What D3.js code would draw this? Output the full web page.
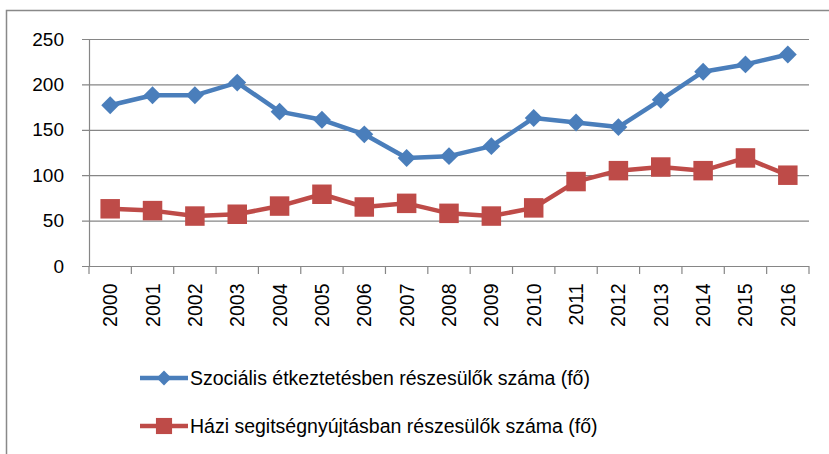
<!DOCTYPE html>
<html>
<head>
<meta charset="utf-8">
<script src="https://cdn.jsdelivr.net/npm/d3@7"></script>
<style>
  body { margin: 0; background: #fff; }
  text { font-family: "Liberation Sans", Arial, sans-serif; fill: #000; }
</style>
</head>
<body>
<svg id="chart" width="829" height="454"></svg>
<script>
var years = ["2000","2001","2002","2003","2004","2005","2006","2007","2008","2009","2010","2011","2012","2013","2014","2015","2016"];
var etkeztetes = [177, 188, 188, 202, 170, 161, 145, 119, 121, 132, 163, 158, 153, 183, 214, 222, 233];
var hazi = [63, 61, 55, 57, 66, 79, 65, 69, 58, 55, 64, 93, 105, 109, 105, 119, 100];
var yTicks = [0, 50, 100, 150, 200, 250];
var seriesNames = ["Szociális étkeztetésben részesülők száma (fő)", "Házi segitségnyújtásban részesülők száma (fő)"];

var svg = d3.select("#chart");

// outer border
svg.append("rect")
  .attr("x", 6.5).attr("y", 10.5)
  .attr("width", 840).attr("height", 460)
  .attr("fill", "none").attr("stroke", "#898989").attr("stroke-width", 1.5);

var plotLeft = 89, plotRight = 809, plotTop = 39, plotBottom = 266;

var xScale = d3.scaleBand().domain(years).range([plotLeft, plotRight]),
  yScale = d3.scaleLinear().domain([0, 250]).range([plotBottom, plotTop]);

// grid
svg.append("g")
  .selectAll("line")
  .data(yTicks)
  .enter().append("line")
  .attr("x1", plotLeft - 7).attr("x2", plotRight)
  .attr("y1", function(d) { return yScale(d) + 0.5; })
  .attr("y2", function(d) { return yScale(d) + 0.5; })
  .attr("stroke", "#868686").attr("stroke-width", 1.2);

// y axis
var yAxis = svg.append("g")
  .attr("transform", "translate(" + plotLeft + ",0)")
  .call(d3.axisLeft(yScale).tickValues(yTicks).tickSize(0).tickPadding(25));
yAxis.select(".domain").attr("stroke", "#868686").attr("stroke-width", 1.2);
yAxis.selectAll("text").attr("font-size", 19).attr("font-family", "DejaVu Sans");

// x axis, ticks sit on the band edges
var xAxis = svg.append("g")
  .attr("transform", "translate(0," + (plotBottom + 0.5) + ")")
  .call(d3.axisBottom(xScale).tickSize(0).tickPadding(0));
xAxis.select(".domain").remove();
svg.append("line")
  .attr("x1", plotLeft).attr("x2", plotRight)
  .attr("y1", plotBottom + 0.5).attr("y2", plotBottom + 0.5)
  .attr("stroke", "#868686").attr("stroke-width", 1.2);
var edges = years.map(function(d) { return xScale(d); }).concat([plotRight]);
svg.append("g").selectAll("line")
  .data(edges)
  .enter().append("line")
  .attr("x1", function(d) { return d; }).attr("x2", function(d) { return d; })
  .attr("y1", plotBottom).attr("y2", plotBottom + 8)
  .attr("stroke", "#868686").attr("stroke-width", 1.2);
xAxis.selectAll("text")
  .attr("font-size", 19.5).attr("font-family", "DejaVu Sans")
  .attr("text-anchor", "end")
  .attr("dy", null)
  .attr("transform", "translate(7,17) rotate(-90)");

function xPos(i) { return xScale(years[i]) + xScale.bandwidth() / 2; }

var series = [
  { values: etkeztetes, color: "#4A7EBB", size: 160, rot: 45, legendSize: 110 },
  { values: hazi, color: "#BE4B48", size: 380, rot: 0, legendSize: 260 }
];

var line = d3.line()
  .x(function(d, i) { return xPos(i); })
  .y(function(d) { return yScale(d); });

series.forEach(function(s) {
  svg.append("path")
    .datum(s.values)
    .attr("d", line)
    .attr("fill", "none")
    .attr("stroke", s.color)
    .attr("stroke-width", 4.5)
    .attr("stroke-linejoin", "round");
  svg.append("g").selectAll("path")
    .data(s.values)
    .enter().append("path")
    .attr("d", d3.symbol().type(d3.symbolSquare).size(s.size))
    .attr("transform", function(d, i) { return "translate(" + xPos(i) + "," + yScale(d) + ") rotate(" + s.rot + ")"; })
    .attr("fill", s.color);
});

// legend
var legend = svg.append("g");
var legendY = [378, 426];
series.forEach(function(s, i) {
  legend.append("line")
    .attr("x1", 140).attr("x2", 188)
    .attr("y1", legendY[i]).attr("y2", legendY[i])
    .attr("stroke", s.color).attr("stroke-width", 4.5);
  legend.append("path")
    .attr("d", d3.symbol().type(d3.symbolSquare).size(s.legendSize))
    .attr("transform", "translate(164," + legendY[i] + ") rotate(" + s.rot + ")")
    .attr("fill", s.color);
  legend.append("text")
    .attr("x", 190).attr("y", legendY[i])
    .attr("dy", "0.35em")
    .attr("font-size", 19.5)
    .text(seriesNames[i]);
});
</script>
</body>
</html>
